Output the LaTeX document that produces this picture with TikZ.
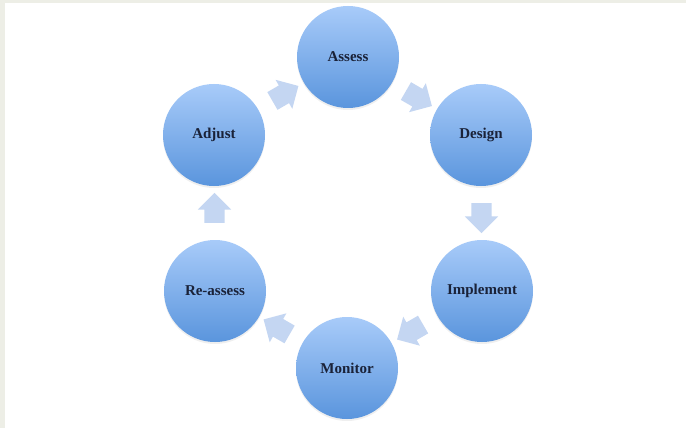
\documentclass[tikz,border=0pt]{standalone}
\usepackage{fontspec}
\setmainfont{Liberation Serif}
\usepackage{xcolor}
\usetikzlibrary{shapes.arrows,calc,shadows}

\definecolor{phasetop}{HTML}{A8CBF9}
\definecolor{phasebot}{HTML}{5A95DD}
\definecolor{phasetext}{HTML}{1A2238}
\definecolor{flowfill}{HTML}{C4D6F2}
\definecolor{framegray}{HTML}{EDEEE6}

\begin{document}
\begin{tikzpicture}[x=1pt,y=-1pt,
    phase/.style = {circle, minimum size=102pt, inner sep=0pt, top color=phasetop, bottom color=phasebot,
        text=phasetext, font=\fontsize{15}{18}\selectfont\bfseries,
        drop shadow={opacity=0.12, shadow xshift=0pt, shadow yshift=-2pt}},
    flow/.style = {single arrow, draw=none, fill=flowfill, inner xsep=0pt, inner ysep=10pt,
        minimum height=30pt, single arrow head extend=6.5pt}
]

    % Frame
    \fill[framegray] (0,0) rectangle (686,428);
    \fill[white] (5,3) rectangle (686,428);
    \useasboundingbox (0,0) rectangle (686,428);

    % Phases
    \node at (348,57)  [phase] (assess) {Assess};
    \node at (481,135) [phase] (design) {Design};
    \node at (482,291) [phase] (implement) {Implement};
    \node at (347,368) [phase] (monitor) {Monitor};
    \node at (215,291) [phase] (reassess) {Re-assess};
    \node at (214,135) [phase] (adjust) {Adjust};

    % Cycle arrows
    \node at ($(assess)!0.5!(design)$)     [flow,rotate=-30]  (F1) {};
    \node at ($(design)!0.5!(implement)$)  [flow,rotate=-90]  (F2) {};
    \node at ($(implement)!0.5!(monitor)$) [flow,rotate=-150] (F3) {};
    \node at ($(monitor)!0.5!(reassess)$)  [flow,rotate=150]  (F4) {};
    \node at ($(reassess)!0.5!(adjust)$)   [flow,rotate=90]   (F5) {};
    \node at ($(adjust)!0.5!(assess)$)     [flow,rotate=30]   (F6) {};
\end{tikzpicture}
\end{document}
